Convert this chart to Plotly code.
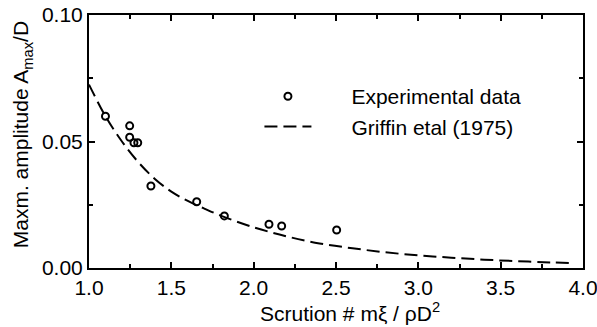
import plotly.graph_objects as go

exp_x = [1.10, 1.247, 1.247, 1.273, 1.296, 1.376, 1.654, 1.822, 2.093, 2.170, 2.504]
exp_y = [0.0600, 0.0562, 0.0517, 0.0495, 0.0495, 0.0324, 0.0262, 0.0206, 0.0173, 0.0166, 0.0150]

# Griffin et al (1975) curve
gr_x = [1.0, 1.1, 1.2, 1.3, 1.4, 1.5, 1.6, 1.7, 1.8, 2.0, 2.2, 2.4, 2.6, 2.8, 3.0, 3.2, 3.4, 3.6, 3.8, 3.95]
gr_y = [0.0725, 0.0600, 0.0500, 0.0418, 0.0352, 0.0302, 0.0265, 0.0235, 0.0207, 0.0161, 0.0125, 0.0097, 0.0078, 0.0062, 0.0050, 0.0041, 0.0033, 0.0027, 0.0022, 0.0019]

x_ticks = [1.0, 1.5, 2.0, 2.5, 3.0, 3.5, 4.0]
y_ticks = [0.00, 0.05, 0.10]

FONT = "Liberation Sans, Arial, Helvetica, sans-serif"
FS = 21
PAD = "\u00a0" * 6

fig = go.Figure()
fig.add_trace(go.Scatter(
    x=exp_x, y=exp_y, mode="markers", name=PAD + "Experimental data",
    marker=dict(symbol="circle-open", size=7, color="black", line=dict(width=2, color="black")),
))
fig.add_trace(go.Scatter(
    x=gr_x, y=gr_y, mode="lines", name=PAD + "Griffin etal (1975)",
    line=dict(color="black", width=2, dash="13px,6px"), line_shape="spline",
))

axis_common = dict(
    showline=True, linecolor="black", linewidth=2, mirror="ticks",
    ticks="inside", ticklen=6, tickwidth=2, tickcolor="black",
    showgrid=False, zeroline=False, automargin=False, ticklabeloverflow="allow",
    tickfont=dict(family=FONT, size=FS, color="black"),
)

fig.update_xaxes(range=[1.0, 4.0], tickvals=x_ticks, ticktext=[f"{v:.1f}" for v in x_ticks],
                 minor=dict(ticks="inside", dtick=0.25, ticklen=4, tickwidth=2, tickcolor="black"),
                 ticklabelstandoff=0,
                 **axis_common)
fig.update_yaxes(range=[0.0, 0.10], tickvals=y_ticks, ticktext=[f"{v:.2f}" for v in y_ticks],
                 minor=dict(ticks="inside", dtick=0.025, ticklen=4, tickwidth=2, tickcolor="black"),
                 **axis_common)

fig.add_annotation(text="Scrution # mξ / ρD<sup>2</sup>", xref="paper", yref="paper",
                   x=0.342, y=-0.175, xanchor="left", yanchor="middle", showarrow=False,
                   font=dict(family=FONT, size=FS, color="black"))
fig.add_annotation(text="Maxm. amplitude A<sub>max</sub>/D", xref="paper", yref="paper",
                   x=-0.135, y=0.526, xanchor="center", yanchor="middle", textangle=-90, showarrow=False,
                   font=dict(family=FONT, size=FS, color="black"))

fig.update_layout(
    width=597, height=327,
    margin=dict(l=89, r=14, t=15, b=59, autoexpand=False),
    paper_bgcolor="white", plot_bgcolor="white",
    showlegend=True,
    legend=dict(x=0.345, y=0.618, xanchor="left", yanchor="middle", bgcolor="rgba(0,0,0,0)",
                font=dict(family=FONT, size=FS, color="black"), itemwidth=47, tracegroupgap=0),
)

fig.write_html("out.html")
